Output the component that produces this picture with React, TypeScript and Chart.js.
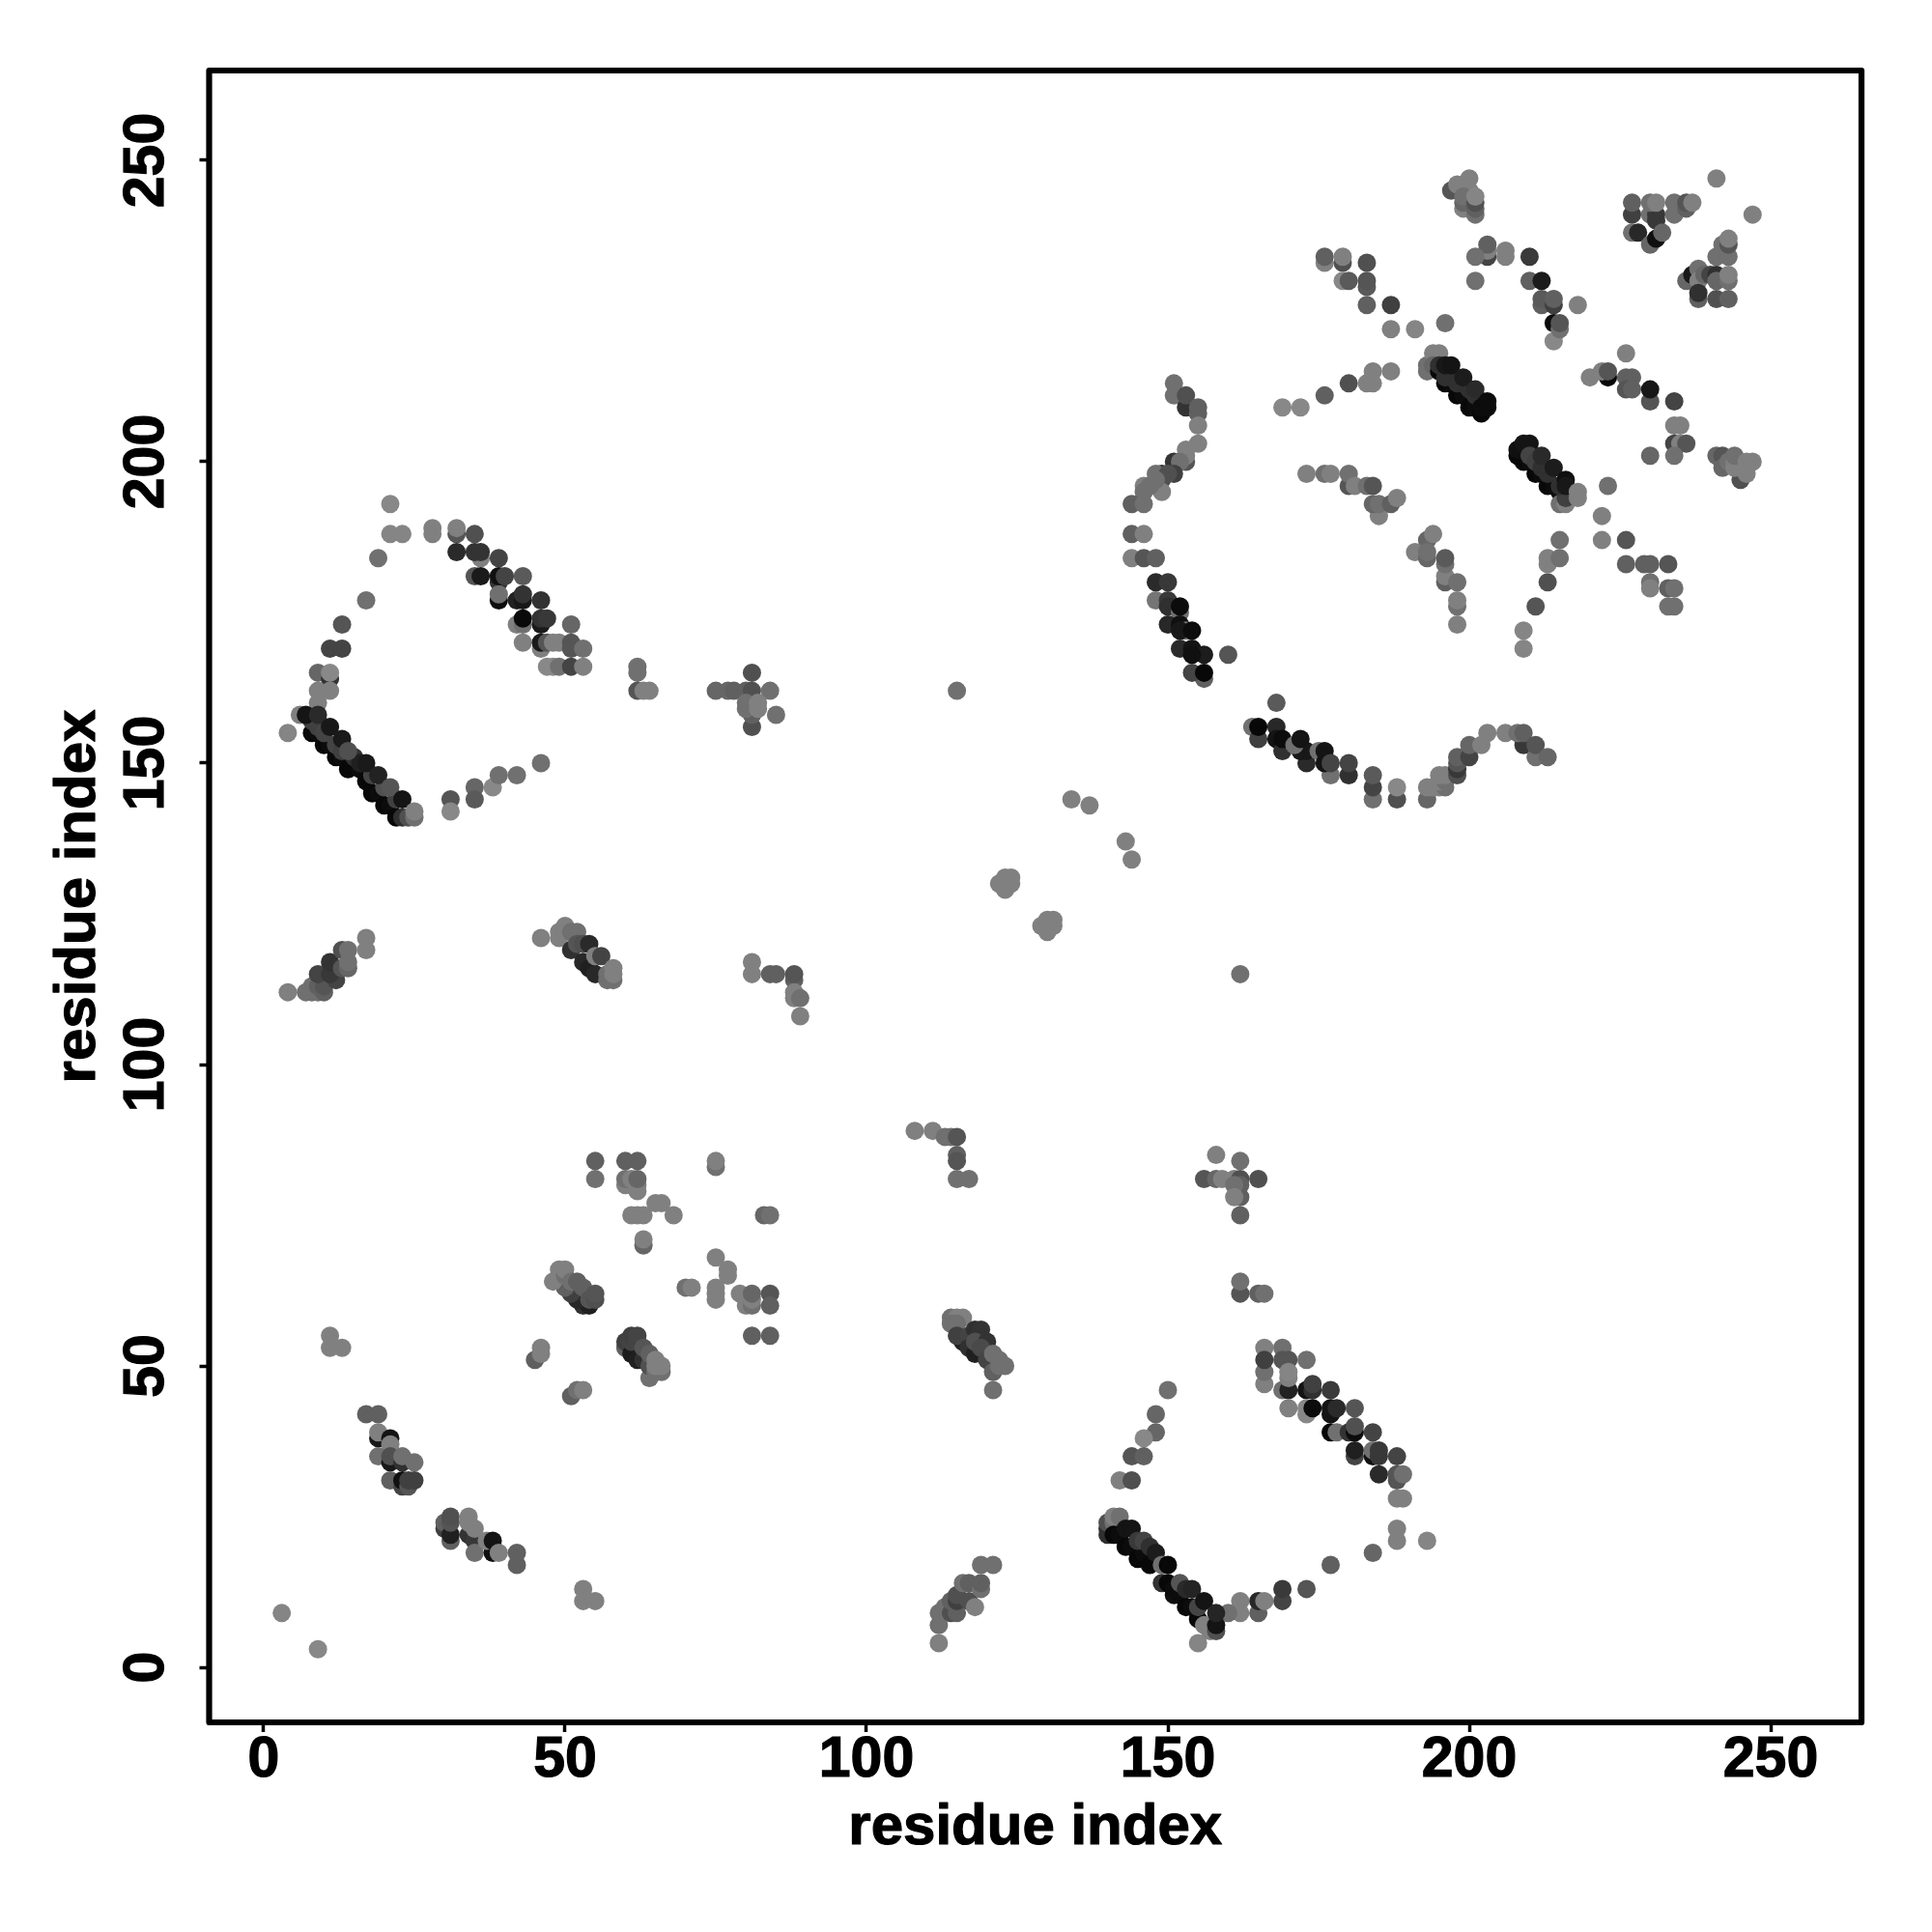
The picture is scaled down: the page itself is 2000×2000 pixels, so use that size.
import React, { useEffect, useRef } from "react";
import { Chart, registerables } from "chart.js";

Chart.register(...registerables);

type P = [number, number, number];

const tickValues = [0, 50, 100, 150, 200, 250];
const axisTitle = "residue index";

const ringUpperLeft: P[] = [
  [21,193,0x88],[21,188,0x85],[23,188,0x85],[28,189,0x80],[28,188,0x80],[19,184,0x70],[17,177,0x70],[13,173,0x55],
  [11,169,0x44],[13,169,0x44],[9,165,0x66],[11,164,0x33],[11,165,0x88],[9,162,0x80],[11,162,0x80],[9,160,0x80],
  [6,158,0x80],[4,155,0x85],[32,188,0x55],[32,189,0x80],[35,188,0x50],[32,185,0x2a],[36,184,0x80],[35,185,0x33],[36,185,0x33],
  [39,184,0x44],[35,181,0x55],[36,181,0x1a],[39,177,0x0c],[39,180,0x33],[39,181,0x10],[40,181,0x44],[43,181,0x5a],
  [39,178,0x70],[42,177,0x22],[43,177,0x18],[43,178,0x33],[46,177,0x33],[42,173,0x80],[43,173,0x70],[43,174,0x0a],
  [46,173,0x1a],[46,174,0x33],[47,174,0x38],[51,173,0x66],[43,170,0x80],[46,169,0x80],[46,170,0x1a],[47,170,0x55],
  [48,170,0x80],[49,170,0x80],[51,170,0x55],[51,169,0x55],[53,169,0x70],[47,166,0x88],[48,166,0x88],[49,166,0x70],
  [51,166,0x44],[53,166,0x80],[62,166,0x70],[62,165,0x70],[62,162,0x55],[63,162,0x80],[64,162,0x80],
  [31,144,0x55],[31,142,0x88],[35,146,0x66],[35,144,0x5a],[38,146,0x88],[39,148,0x70],[42,148,0x70],[46,150,0x70],
];

const bandUpperLeft: P[] = [
  [8,155,0x08],[9,155,0x0c],[10,153,0x08],[11,153,0x0c],[12,151,0x08],[13,151,0x0c],[14,149,0x08],[16,149,0x0c],
  [17,147,0x08],[18,145,0x08],[19,145,0x0c],[20,143,0x08],[21,143,0x0c],[22,141,0x08],
  [8,157,0x40],[9,156,0x40],[10,155,0x44],[12,153,0x44],[13,152,0x40],[15,151,0x30],[16,150,0x20],[18,148,0x44],[20,146,0x50],[22,144,0x40],
  [7,158,0x15],[9,158,0x2a],[11,156,0x18],[13,154,0x1a],[14,152,0x50],[17,150,0x1a],[19,148,0x22],[21,146,0x55],
  [23,144,0x14],[23,141,0x30],[24,141,0x50],[25,141,0x70],[25,142,0x80],
];

const arcLeftUpperRight: P[] = [
  [151,213,0x70],[151,211,0x70],[153,209,0x33],[153,211,0x50],[155,209,0x60],[155,208,0x60],[155,206,0x80],[155,203,0x80],
  [153,200,0x55],[153,201,0x80],[153,202,0x80],[151,200,0x33],[152,200,0x70],[151,198,0x40],[149,198,0x33],[148,198,0x70],
  [150,198,0x50],[149,197,0x50],[149,195,0x80],[146,196,0x80],[146,195,0x70],[147,196,0x70],[148,197,0x70],
  [144,193,0x60],[146,193,0x70],[144,188,0x60],[146,188,0x80],[144,184,0x80],[146,184,0x55],[148,184,0x60],
  [148,180,0x2a],[150,180,0x38],[148,177,0x75],[150,177,0x3a],[150,176,0x30],[152,175,0x70],[152,176,0x0c],
  [150,173,0x28],[152,173,0x10],[153,172,0x70],[152,172,0x18],[154,172,0x0c],[152,169,0x2a],[154,169,0x14],
  [156,168,0x1c],[154,168,0x10],[160,168,0x55],[156,164,0x60],[154,165,0x44],[156,165,0x08],
];

const arcsInnerUpperRight: P[] = [
  [169,209,0x88],[172,209,0x88],[176,211,0x60],[180,213,0x50],[183,213,0x80],[184,213,0x80],[184,215,0x80],[187,215,0x80],
  [173,198,0x80],[176,198,0x70],[177,198,0x80],[180,196,0x55],[180,198,0x70],[181,196,0x80],[183,196,0x70],[184,196,0x55],
  [185,191,0x80],[184,193,0x66],[185,193,0x70],[187,193,0x60],[188,194,0x80],
  [193,187,0x66],[194,188,0x80],[191,185,0x80],[193,184,0x66],[193,185,0x70],[196,180,0x60],[196,181,0x80],[196,183,0x70],[196,184,0x5a],
  [198,180,0x70],[198,176,0x70],[198,177,0x80],[198,173,0x80],[209,172,0x85],[209,169,0x85],[211,176,0x55],
  [213,180,0x50],[213,184,0x80],[213,183,0x80],[215,184,0x70],[215,187,0x70],
];

const arcBottomUpperRight: P[] = [
  [168,160,0x5a],[164,156,0x70],[165,154,0x40],[165,156,0x08],[168,156,0x28],[168,154,0x14],[169,152,0x30],[169,154,0x0c],
  [173,150,0x2a],[172,152,0x18],[173,152,0x18],[171,153,0x70],[172,154,0x14],[177,148,0x70],[175,152,0x70],[176,150,0x14],[176,152,0x14],[177,150,0x44],
  [180,148,0x30],[180,150,0x44],[184,144,0x70],[184,146,0x44],[184,148,0x5a],[188,144,0x50],[188,146,0x88],[193,144,0x66],
  [193,146,0x80],[194,146,0x80],[195,146,0x80],[196,146,0x70],[195,147,0x80],[196,147,0x70],[195,148,0x80],[196,148,0x80],
  [198,148,0x50],[198,149,0x38],[198,150,0x55],[198,151,0x60],[200,151,0x44],[200,153,0x66],[202,153,0x80],[203,155,0x80],
  [206,155,0x80],[209,153,0x38],[208,155,0x70],[209,155,0x60],[211,151,0x70],[211,153,0x55],[213,151,0x66],
];

const clusterTopUpperRight: P[] = [
  [176,233,0x80],[176,234,0x60],[179,233,0x50],[179,234,0x80],[183,233,0x50],[179,230,0x88],[180,230,0x5a],[183,229,0x5a],[183,230,0x55],
  [183,226,0x60],[187,226,0x40],[187,222,0x80],[191,222,0x85],[196,223,0x70],
  [197,245,0x55],[198,246,0x80],[200,247,0x80],[199,245,0x80],[200,245,0x80],[199,242,0x80],[199,243,0x66],[199,244,0x70],
  [201,241,0x70],[201,242,0x60],[201,243,0x50],[201,244,0x85],
  [203,234,0x44],[203,235,0x80],[203,236,0x60],[201,234,0x70],[206,234,0x80],[206,235,0x80],[201,230,0x70],
  [210,234,0x3a],[210,230,0x60],[212,230,0x1c],[212,226,0x60],[212,227,0x5a],[214,226,0x40],[214,227,0x60],[218,226,0x80],
  [214,220,0x88],[214,223,0x0c],[215,222,0x70],[215,223,0x55],
];

const clusterCornerUpperRight: P[] = [
  [227,241,0x40],[227,243,0x60],[227,238,0x70],[228,238,0x28],[230,241,0x70],[231,241,0x38],[231,240,0x38],[230,243,0x70],[231,243,0x80],
  [234,241,0x70],[234,243,0x70],[236,242,0x60],[236,243,0x55],[237,243,0x80],[230,236,0x66],[231,237,0x10],[232,238,0x66],
  [241,247,0x80],[247,241,0x80],[241,234,0x70],[243,234,0x70],[242,236,0x70],[243,236,0x55],[243,237,0x80],
  [236,230,0x66],[237,231,0x18],[238,232,0x70],[238,230,0x80],[239,231,0x66],[240,231,0x44],[241,231,0x30],[241,230,0x66],[243,230,0x70],[243,231,0x80],
  [238,227,0x60],[238,228,0x30],[241,227,0x50],[243,227,0x60],
];

const clusterRightUpperRight: P[] = [
  [220,214,0x80],[223,214,0x08],[222,215,0x80],[223,215,0x55],[226,218,0x80],[226,214,0x60],[227,214,0x60],[226,212,0x55],[227,212,0x60],
  [230,210,0x55],[230,212,0x18],[234,210,0x44],[234,206,0x80],[235,206,0x80],[234,203,0x44],[235,203,0x80],[236,203,0x55],[230,201,0x66],[234,201,0x70],
  [241,201,0x66],[242,201,0x55],[245,197,0x50],[242,199,0x66],[243,200,0x70],[244,199,0x80],[244,200,0x80],[244,201,0x70],[246,198,0x80],[246,200,0x80],[247,200,0x80],
  [223,196,0x70],[222,191,0x80],[222,187,0x80],[226,187,0x55],[226,183,0x60],[229,183,0x60],[230,183,0x60],[233,183,0x55],
  [230,180,0x70],[230,179,0x80],[233,179,0x60],[234,179,0x70],[233,176,0x70],[234,176,0x70],
];

const bandsUpperRight: P[] = [
  [193,216,0x70],[193,215,0x70],[194,218,0x80],[195,218,0x80],[194,216,0x66],
  [195,215,0x08],[196,213,0x08],[197,213,0x0c],[198,211,0x08],[199,211,0x0c],[200,209,0x08],[201,209,0x0c],[202,208,0x08],
  [195,216,0x30],[196,214,0x30],[197,214,0x30],[198,213,0x30],[199,213,0x30],[200,212,0x30],[201,211,0x30],[202,210,0x30],
  [196,216,0x18],[197,216,0x14],[199,214,0x1c],[201,212,0x2a],[202,209,0x0c],[203,209,0x0c],[203,210,0x0c],
  [208,201,0x08],[209,200,0x08],[210,200,0x0c],[211,198,0x08],[212,198,0x0c],[213,196,0x08],[214,196,0x0c],[215,195,0x10],
  [215,193,0x70],[216,193,0x80],[216,194,0x40],
  [208,202,0x10],[209,203,0x14],[210,203,0x14],[210,201,0x44],[211,200,0x40],[212,199,0x30],[213,198,0x30],[215,196,0x30],
  [212,201,0x2a],[214,199,0x1c],[216,197,0x10],[216,196,0x18],[218,194,0x80],[218,195,0x80],
];

const ringLowerRight: P[] = [
  [166,53,0x80],[169,53,0x70],[166,47,0x80],[166,49,0x70],[166,51,0x40],[169,51,0x55],[170,51,0x55],[173,51,0x70],[169,46,0x70],
  [170,46,0x22],[170,48,0x80],[170,49,0x85],[173,46,0x14],[174,46,0x30],[174,47,0x40],[177,46,0x3a],
  [170,43,0x80],[173,42,0x88],[173,43,0x88],[174,43,0x0c],[177,42,0x14],[177,43,0x14],[178,43,0x2a],[181,43,0x55],
  [177,39,0x08],[178,39,0x70],[180,39,0x33],[181,39,0x0c],[181,40,0x50],[184,39,0x44],[181,35,0x44],[181,36,0x20],
  [184,35,0x10],[184,36,0x70],[185,35,0x38],[185,36,0x38],[188,35,0x44],[185,32,0x2a],[188,31,0x55],[188,32,0x55],[189,32,0x70],
  [188,28,0x80],[189,28,0x80],[188,23,0x80],[188,21,0x80],[193,21,0x85],[184,19,0x66],[177,17,0x60],[173,13,0x55],
  [169,11,0x44],[169,13,0x3a],[165,9,0x60],[165,11,0x28],[166,11,0x80],[162,9,0x80],[162,11,0x80],[160,9,0x70],[155,4,0x85],
  [150,46,0x70],[148,42,0x66],[148,39,0x66],[146,38,0x88],[144,35,0x55],[146,35,0x60],[142,31,0x80],[144,31,0x50],
];

const bandLowerRight: P[] = [
  [140,22,0x30],[140,23,0x30],[140,24,0x50],[141,24,0x70],[141,25,0x80],[142,25,0x70],
  [141,22,0x08],[142,22,0x0c],[143,20,0x08],[144,20,0x0c],[145,18,0x08],[146,19,0x0c],[147,17,0x08],
  [143,23,0x14],[144,23,0x14],[145,21,0x3a],[146,21,0x44],[147,20,0x30],[148,19,0x1c],[149,17,0x70],[150,17,0x08],
  [149,14,0x33],[150,14,0x08],[151,12,0x10],[152,12,0x0c],[153,10,0x08],[154,10,0x0c],[155,8,0x08],[156,7,0x80],[157,6,0x80],
  [151,13,0x0c],[152,14,0x55],[153,13,0x2a],[154,13,0x24],[155,10,0x44],[156,11,0x14],[158,6,0x50],[158,7,0x14],[158,9,0x25],
];

const clustersLowerLeft: P[] = [
  [55,81,0x70],[55,84,0x60],[60,84,0x60],[62,84,0x60],[60,80,0x80],[60,81,0x70],[61,81,0x80],[62,79,0x80],[62,80,0x80],[62,81,0x66],
  [75,83,0x70],[75,84,0x80],[65,77,0x80],[66,77,0x80],[61,75,0x80],[62,75,0x80],[63,75,0x80],[68,75,0x80],[83,75,0x66],[84,75,0x70],
  [63,70,0x66],[63,71,0x80],[75,68,0x80],[77,66,0x80],[77,65,0x80],[70,63,0x70],[71,63,0x80],[75,63,0x80],[75,62,0x80],[75,61,0x80],
  [79,62,0x80],[80,60,0x80],[81,60,0x70],[81,61,0x80],[81,62,0x66],[84,62,0x55],[84,60,0x60],[81,55,0x60],[84,55,0x60],
  [45,51,0x60],[46,52,0x80],[46,53,0x80],[51,45,0x60],[52,46,0x70],[53,46,0x80],[11,55,0x80],[11,53,0x80],[13,53,0x80],
  [3,9,0x85],[9,3,0x88],[53,13,0x80],[53,11,0x80],[55,11,0x80],
  [53,60,0x30],[54,60,0x20],[52,61,0x28],[51,62,0x40],[50,63,0x60],[48,64,0x80],[49,65,0x80],[49,66,0x80],[50,65,0x70],[50,66,0x80],
  [51,64,0x70],[52,64,0x60],[53,63,0x60],[54,61,0x55],[55,61,0x50],[55,62,0x55],
  [60,53,0x60],[60,54,0x40],[61,52,0x1c],[62,51,0x20],[61,54,0x44],[61,55,0x40],[62,54,0x44],[62,55,0x44],[63,51,0x30],[63,53,0x55],
  [64,48,0x70],[64,50,0x50],[64,52,0x60],[65,49,0x70],[66,49,0x70],[65,50,0x80],[65,51,0x80],[66,50,0x80],
  [17,42,0x60],[19,42,0x60],[19,38,0x18],[19,39,0x80],[21,38,0x14],[21,37,0x80],[19,35,0x70],[21,34,0x18],[21,35,0x50],[23,34,0x30],[23,35,0x70],[25,34,0x70],
  [21,31,0x60],[23,30,0x44],[23,31,0x10],[24,30,0x55],[24,31,0x40],[25,31,0x40],
  [30,23,0x40],[30,24,0x60],[31,21,0x60],[31,22,0x20],[31,24,0x55],[31,25,0x50],[34,22,0x33],[34,24,0x80],[34,25,0x80],[35,21,0x38],[35,23,0x80],[35,19,0x70],
  [38,19,0x10],[37,21,0x80],[38,21,0x14],[39,19,0x80],[42,17,0x60],[42,19,0x60],
];

const clustersMiddleLeft: P[] = [
  [4,112,0x80],[7,112,0x70],[8,112,0x70],[9,112,0x70],[10,112,0x60],[8,113,0x70],[9,113,0x60],[10,113,0x55],[9,115,0x44],[12,114,0x44],[11,115,0x38],[11,117,0x33],
  [13,116,0x55],[13,119,0x50],[14,116,0x66],[14,117,0x70],[14,119,0x70],[17,119,0x80],[17,121,0x80],
  [46,121,0x80],[49,121,0x80],[49,122,0x80],[50,123,0x80],[51,119,0x30],[51,122,0x70],[52,122,0x70],[52,120,0x55],[53,117,0x28],[53,120,0x50],[54,120,0x2a],
  [54,116,0x20],[55,115,0x28],[55,118,0x80],[56,118,0x44],[57,114,0x70],[57,115,0x70],[58,114,0x70],[58,115,0x80],[58,116,0x80],
  [81,115,0x80],[81,117,0x80],[84,115,0x60],[85,115,0x60],[88,114,0x60],[88,115,0x55],[88,111,0x80],[88,112,0x80],[89,111,0x70],[89,108,0x80],
];

const clustersCentre: P[] = [
  [134,144,0x80],[137,143,0x80],[143,137,0x80],[144,134,0x80],[122,130,0x80],[123,129,0x80],[123,131,0x80],[124,131,0x80],[124,130,0x80],
  [129,123,0x80],[130,122,0x80],[130,124,0x80],[131,123,0x80],[131,124,0x80],[162,115,0x70],[115,162,0x70],
  [75,162,0x66],[77,162,0x66],[78,162,0x60],[80,162,0x60],[81,165,0x50],[81,162,0x50],[84,162,0x70],[81,156,0x50],[81,158,0x60],[85,158,0x70],[80,159,0x70],[80,160,0x70],[82,160,0x80],[82,159,0x80],
  [108,89,0x80],[111,89,0x80],[113,88,0x70],[114,88,0x70],[115,88,0x55],[115,85,0x60],[115,84,0x55],[115,81,0x70],[117,81,0x70],
  [158,85,0x80],[156,81,0x55],[158,81,0x66],[159,81,0x80],[161,81,0x80],[162,84,0x70],[165,81,0x50],[162,81,0x50],[162,80,0x60],[162,78,0x60],[162,75,0x60],[161,80,0x70],[161,78,0x80],
  [162,62,0x55],[162,64,0x70],[165,62,0x60],[166,62,0x70],
  [114,58,0x70],[115,58,0x80],[116,58,0x80],[114,57,0x70],[115,57,0x70],[116,54,0x20],[115,55,0x40],[117,55,0x44],[118,56,0x30],[119,56,0x33],[117,53,0x30],[118,52,0x20],[118,54,0x50],[120,54,0x33],
  [119,53,0x4a],[120,51,0x44],[121,49,0x60],[121,52,0x70],[122,51,0x70],[122,50,0x70],[123,50,0x70],[121,46,0x70],
  [112,4,0x80],[112,7,0x70],[112,9,0x70],[113,10,0x70],[114,9,0x50],[115,9,0x60],[114,11,0x60],[115,11,0x40],[115,12,0x50],[117,11,0x50],[116,14,0x70],[117,14,0x60],[118,10,0x80],[119,13,0x70],[119,14,0x60],[119,17,0x70],[121,17,0x70],
];

const allContacts: P[] = [
  ...clustersCentre, ...clustersLowerLeft, ...clustersMiddleLeft,
  ...ringUpperLeft, ...bandUpperLeft,
  ...arcLeftUpperRight, ...arcsInnerUpperRight, ...arcBottomUpperRight,
  ...clusterTopUpperRight, ...clusterCornerUpperRight, ...clusterRightUpperRight, ...bandsUpperRight,
  ...ringLowerRight, ...bandLowerRight,
];

const FONT = '"Liberation Sans", Arial, sans-serif';

const framePlugin = {
  id: "frame",
  afterDatasetsDraw(chart: any) {
    const { ctx, chartArea: a } = chart;
    ctx.save();
    ctx.strokeStyle = "#000";
    ctx.lineWidth = 6.2;
    ctx.lineJoin = "round";
    ctx.strokeRect(a.left, a.top, a.right - a.left, a.bottom - a.top);
    ctx.fillStyle = "#000";
    ctx.font = `bold 60px ${FONT}`;
    ctx.textAlign = "center";
    ctx.textBaseline = "middle";
    ctx.lineWidth = 1.2;
    ctx.fillText(axisTitle, (a.left + a.right) / 2, 1892);
    ctx.strokeText(axisTitle, (a.left + a.right) / 2, 1892);
    ctx.translate(81, (a.top + a.bottom) / 2);
    ctx.rotate(-Math.PI / 2);
    ctx.fillText(axisTitle, 0, 0);
    ctx.strokeText(axisTitle, 0, 0);
    ctx.restore();
  },
};

export default function App() {
  const ref = useRef<HTMLCanvasElement>(null);
  useEffect(() => {
    const chart = new Chart(ref.current!, {
      type: "scatter",
      data: {
        datasets: [
          {
            data: allContacts.map(([x, y]) => ({ x, y })),
            pointRadius: 9.5,
            pointBorderWidth: 0,
            pointBackgroundColor: allContacts.map(([, , s]) => `rgb(${s},${s},${s})`),
          },
        ],
      },
      plugins: [framePlugin],
      options: {
        animation: false,
        responsive: false,
        events: [],
        layout: { padding: { top: 73, right: 73, left: 0, bottom: 0 } },
        plugins: { legend: { display: false }, tooltip: { enabled: false } },
        scales: {
          x: {
            type: "linear",
            min: -9.05,
            max: 265.06,
            afterBuildTicks: (axis: any) => {
              axis.ticks = tickValues.map((value) => ({ value }));
            },
            afterFit: (axis: any) => {
              axis.height = 217;
            },
            border: { display: false },
            grid: { drawOnChartArea: false, drawTicks: true, tickLength: 10, tickWidth: 3.5, tickColor: "#000" },
            ticks: {
              autoSkip: false,
              maxRotation: 0,
              minRotation: 0,
              padding: -6,
              color: "#000",
              textStrokeColor: "#000",
              textStrokeWidth: 1.2,
              font: { family: FONT, size: 59, weight: "bold" },
            },
          },
          y: {
            type: "linear",
            min: -9.13,
            max: 264.9,
            afterBuildTicks: (axis: any) => {
              axis.ticks = tickValues.map((value) => ({ value }));
            },
            afterFit: (axis: any) => {
              axis.width = 216.5;
            },
            border: { display: false },
            grid: { drawOnChartArea: false, drawTicks: true, tickLength: 10, tickWidth: 3.5, tickColor: "#000" },
            ticks: {
              autoSkip: false,
              maxRotation: 90,
              minRotation: 90,
              crossAlign: "center",
              padding: 4.5,
              color: "#000",
              textStrokeColor: "#000",
              textStrokeWidth: 1.2,
              font: { family: FONT, size: 59, weight: "bold" },
            },
          },
        },
      },
    } as any);
    return () => chart.destroy();
  }, []);
  return (
    <canvas
      ref={ref}
      width={2000}
      height={2000}
      style={{ position: "absolute", left: 0, top: 0, width: 2000, height: 2000, display: "block" }}
    />
  );
}
